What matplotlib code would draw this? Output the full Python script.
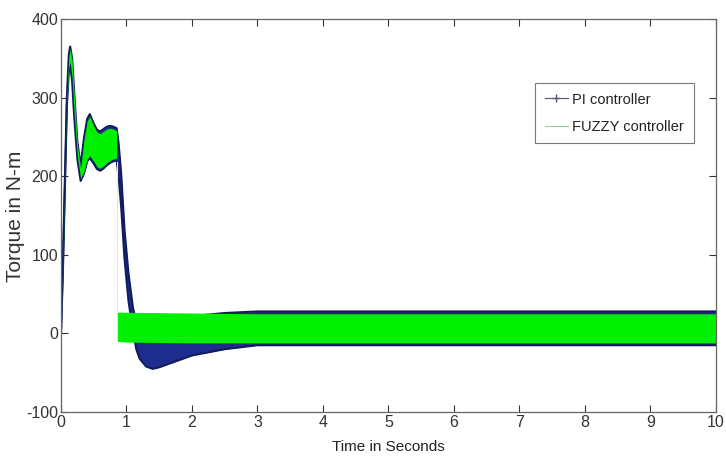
import matplotlib
matplotlib.use("Agg")
import matplotlib.pyplot as plt
from matplotlib.lines import Line2D

plt.rcParams['font.family'] = ['Liberation Sans', 'DejaVu Sans']
plt.rcParams['axes.unicode_minus'] = False

# ---- data (envelopes of the oscillating torque) ----
t_pi = [0, 0.03, 0.06, 0.09, 0.12, 0.14, 0.17, 0.20, 0.25, 0.30, 0.35, 0.40, 0.44,
        0.50, 0.55, 0.60, 0.65, 0.70, 0.75, 0.80, 0.85, 0.88, 0.92, 0.97, 1.03,
        1.10, 1.15, 1.20, 1.30, 1.40, 1.50, 1.70, 2.00, 2.50, 3.00, 4, 5, 6, 7, 8, 9, 10]
pi_upper = [0, 93, 197, 301, 355, 365, 350, 309, 244, 213, 248, 273, 279,
            267, 259, 257, 260, 263, 264, 263, 261, 242, 202, 132, 77,
            32, 16, 12, 12, 14, 16, 19, 22, 26, 28, 28, 28, 28, 28, 28, 28, 28]
pi_lower = [0, 81, 185, 289, 334, 341, 321, 278, 222, 194, 203, 219, 223,
            216, 209, 207, 210, 214, 217, 219, 220, 200, 160, 95, 42,
            2, -20, -32, -42, -45, -43, -37, -28, -20, -15, -15, -15, -15, -15, -15, -15, -15]

t_fz = [0, 0.03, 0.06, 0.09, 0.12, 0.14, 0.17, 0.20, 0.25, 0.30, 0.35, 0.40, 0.44,
        0.50, 0.55, 0.60, 0.65, 0.70, 0.75, 0.80, 0.85, 0.85, 1.0, 2, 3, 4, 5, 6, 7, 8, 9, 10]
fz_upper = [0, 90, 194, 298, 352, 362, 347, 306, 241, 210, 245, 270, 276,
            264, 256, 254, 257, 260, 261, 260, 258, 27, 27, 26, 25, 25, 25, 25, 25, 25, 25, 25]
fz_lower = [0, 84, 188, 292, 338, 345, 325, 282, 226, 197, 206, 222, 226,
            219, 212, 210, 213, 217, 220, 222, 223, -10, -11, -12, -12, -12, -12, -12, -12, -12, -12, -12]

x_ticks = [0, 1, 2, 3, 4, 5, 6, 7, 8, 9, 10]
y_ticks = [-100, 0, 100, 200, 300, 400]

pi_color = '#1e2c8e'
pi_edge = '#101c5c'
fz_color = '#00f000'

fig = plt.figure(figsize=(7.26, 4.63), dpi=100)
ax = fig.add_axes([0.084, 0.110, 0.902, 0.849])

ax.fill_between(t_pi, pi_lower, pi_upper, color=pi_color, lw=0, zorder=1)
ax.plot(t_pi, pi_upper, color=pi_edge, lw=1.5, zorder=2)
ax.plot(t_pi, pi_lower, color=pi_edge, lw=1.5, zorder=2)

ax.fill_between(t_fz, fz_lower, fz_upper, color=fz_color, lw=0, zorder=3)
ax.plot(t_fz[20:22], [fz_lower[20] - 5, fz_lower[21]], color='#e6eeb0', lw=0.8, zorder=3)

ax.set_xlim(0, 10)
ax.set_ylim(-100, 400)
ax.set_xticks(x_ticks)
ax.set_yticks(y_ticks)
ax.tick_params(direction='in', top=True, right=True, length=5, labelsize=11.5,
               colors='#333333', pad=2)
for sp in ax.spines.values():
    sp.set_color('#666666')
    sp.set_linewidth(0.9)
    sp.set_zorder(4)

ax.set_xlabel('Time in Seconds', fontsize=11, color='#222222')
ax.set_ylabel('Torque in N-m', fontsize=15, color='#333333')
ax.xaxis.set_label_coords(0.50, -0.072)
ax.yaxis.set_label_coords(-0.055, 0.499)

handles = [Line2D([0], [0], color='#555577', lw=0.8, marker='+', markersize=6),
           Line2D([0], [0], color='#99cc99', lw=0.8)]
leg = ax.legend(handles, ['PI controller', 'FUZZY controller'],
                loc='upper left', bbox_to_anchor=(0.724, 0.837), fontsize=10.5,
                fancybox=False, framealpha=1, edgecolor='#777777',
                handlelength=1.6, handletextpad=0.3, borderpad=0.65, labelspacing=0.9,
                borderaxespad=0)
leg.get_frame().set_linewidth(0.8)
for txt in leg.get_texts():
    txt.set_color('#222222')

fig.savefig('out.png', dpi=100)
